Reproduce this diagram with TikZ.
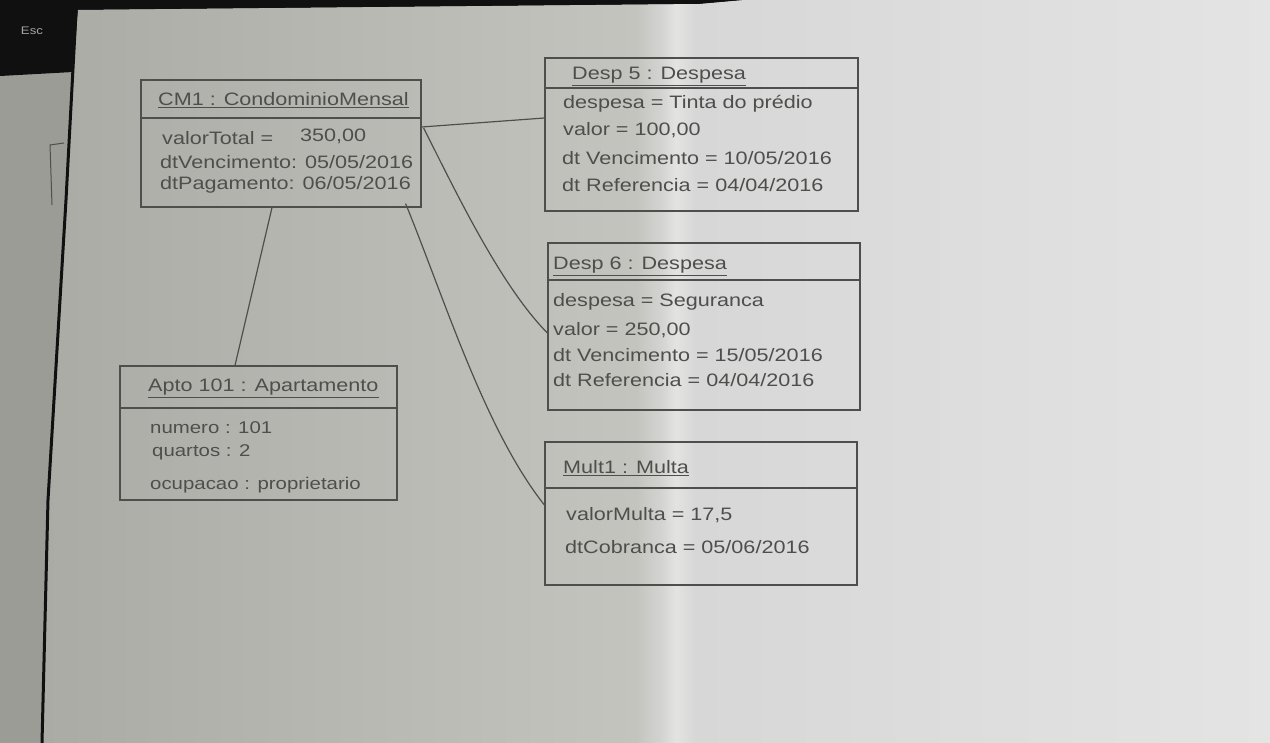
\documentclass[tikz,border=0pt]{standalone}
\usepackage{fontspec}
\setmainfont[FakeStretch=1.2]{Liberation Sans}
\usetikzlibrary{calc}
\definecolor{ink}{HTML}{4E4E4C}
\definecolor{behindsheet}{HTML}{9C9C97}
\definecolor{darkbg}{HTML}{101010}
\definecolor{pA}{HTML}{ABABA6}
\definecolor{pB}{HTML}{C4C4BF}
\definecolor{pC}{HTML}{D3D3D1}
\definecolor{pD}{HTML}{E3E3E2}
\definecolor{pE}{HTML}{D7D7D7}
\definecolor{pF}{HTML}{E4E4E5}
\pgfdeclarehorizontalshading{papershade}{100bp}{color(0bp)=(pA); color(25bp)=(pA); color(49.2bp)=(pB); color(50.2bp)=(pC); color(50.8bp)=(pD); color(51.6bp)=(pE); color(75bp)=(pF); color(100bp)=(pF)}
\begin{document}
\begin{tikzpicture}[x=1pt,y=-1pt,
  obj/.style={draw=ink, line width=1.2pt, inner sep=0pt, rectangle},
  lbl/.style={anchor=west, inner sep=0pt, text=ink, font=\fontsize{18}{20}\selectfont},
  link/.style={draw=ink, line width=1.2pt},
  sep/.style={draw=ink, line width=1.1pt}
]
\useasboundingbox (0,0) rectangle (1270,743);
% photo background
\fill[behindsheet] (0,0) rectangle (1270,743);
\fill[darkbg] (0,0) -- (745,0) -- (700,4) -- (78,10) -- (73,72) -- (0,76) -- cycle;
\shade[shading=papershade] (78,10) -- (700,4) -- (745,0) -- (1270,0) -- (1270,743) -- (42,743) -- (48,500) -- (66,200) -- cycle;
\draw[darkbg, line width=3pt] (76,12) -- (66,200) -- (48,500) -- (42,743);
\draw[ink, line width=1pt] (52,205) -- (50,145) -- (64,143);
\node[text=gray!70, font=\fontsize{11}{12}\selectfont] (esc) at (32,31) {Esc};

% object boxes
\node[obj, minimum width=280pt, minimum height=127pt] (cm1) at (281,143.5) {};
\node[obj, minimum width=313pt, minimum height=153pt] (desp5) at (701.5,134.5) {};
\node[obj, minimum width=312pt, minimum height=167pt] (desp6) at (704,326.5) {};
\node[obj, minimum width=277pt, minimum height=134pt] (apto) at (258.5,433) {};
\node[obj, minimum width=312pt, minimum height=143pt] (multa) at (701,513.5) {};

% compartment separators
\draw[sep] (cm1.west |- 0,118) -- (cm1.east |- 0,118);
\draw[sep] (desp5.west |- 0,88) -- (desp5.east |- 0,88);
\draw[sep] (desp6.west |- 0,280) -- (desp6.east |- 0,280);
\draw[sep] (apto.west |- 0,408) -- (apto.east |- 0,408);
\draw[sep] (multa.west |- 0,488) -- (multa.east |- 0,488);

% titles
\node[lbl] (cm1t) at (158,99) {CM1 : CondominioMensal};
\node[lbl] (desp5t) at (572,75) {Desp 5 : Despesa};
\node[lbl] (desp6t) at (553,265) {Desp 6 : Despesa};
\node[lbl] (aptot) at (148,387) {Apto 101 : Apartamento};
\node[lbl] (multat) at (563,467) {Mult1 : Multa};
\foreach \t in {cm1t,desp5t,desp6t,aptot,multat}
  \draw[sep] ([yshift=-2pt]\t.south west) -- ([yshift=-2pt]\t.south east);

% attributes
\node[lbl] (cm1a) at (162,138) {valorTotal =};
\node[lbl] (cm1av) at (300,136) {350,00};
\node[lbl] (cm1b) at (160,162) {dtVencimento: 05/05/2016};
\node[lbl] (cm1c) at (160,185) {dtPagamento: 06/05/2016};

\node[lbl] (d5a) at (563,104) {despesa = Tinta do prédio};
\node[lbl] (d5b) at (563,130) {valor = 100,00};
\node[lbl] (d5c) at (562,158) {dt Vencimento = 10/05/2016};
\node[lbl] (d5d) at (562,185) {dt Referencia = 04/04/2016};

\node[lbl] (d6a) at (553,302) {despesa = Seguranca};
\node[lbl] (d6b) at (553,330) {valor = 250,00};
\node[lbl] (d6c) at (553,355) {dt Vencimento = 15/05/2016};
\node[lbl] (d6d) at (553,380) {dt Referencia = 04/04/2016};

\node[lbl, font=\fontsize{17}{19}\selectfont] (apa) at (150,428) {numero : 101};
\node[lbl, font=\fontsize{17}{19}\selectfont] (apb) at (152,452) {quartos : 2};
\node[lbl, font=\fontsize{17}{19}\selectfont] (apc) at (150,485) {ocupacao : proprietario};

\node[lbl] (mua) at (566,515) {valorMulta = 17,5};
\node[lbl] (mub) at (565,547) {dtCobranca = 05/06/2016};

% links
\draw[link] ($(cm1.east)+(0,-16.5)$) -- ($(desp5.west)+(0,-16.5)$);
\draw[link] ($(cm1.east)+(2,-15.5)$) .. controls (455,190) and (500,285) .. ($(desp6.west)+(0,6.5)$);
\draw[link] ($(cm1.south east)+(-16,-4)$) .. controls (445,300) and (485,430) .. ($(multa.west)+(0,-8.5)$);
\draw[link] ($(cm1.south)+(-9,0)$) -- ($(apto.north)+(-23.5,0)$);
\end{tikzpicture}
\end{document}
